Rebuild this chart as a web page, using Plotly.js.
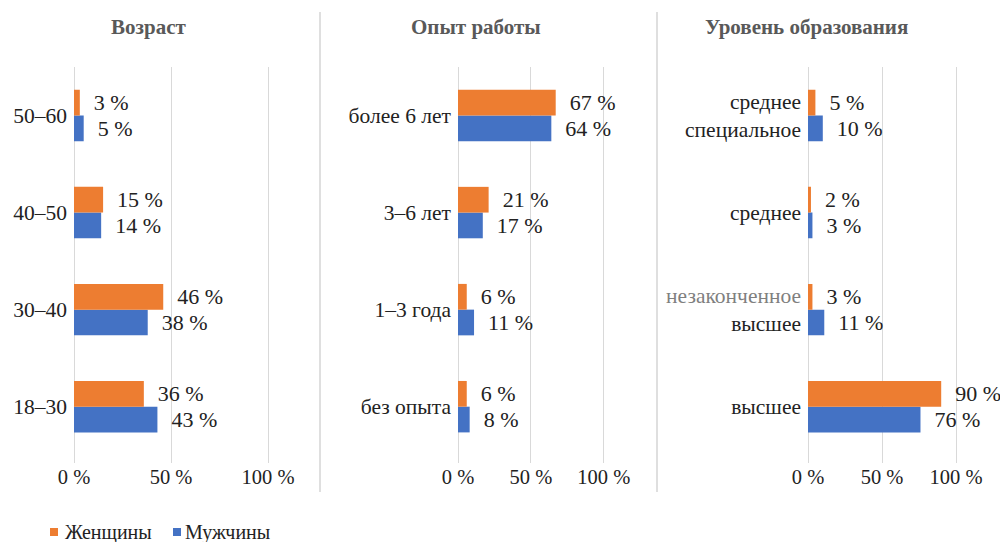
<!DOCTYPE html>
<html>
<head>
<meta charset="utf-8">
<script src="https://cdn.plot.ly/plotly-3.0.1.min.js"></script>
<style>
  body { margin: 0; background: #fff; }
  #chart { width: 1000px; height: 542px; }
</style>
</head>
<body>
<div id="chart"></div>
<script>
// categories listed bottom to top (plotly draws the first category at the bottom)
var age_cats = ["18–30", "30–40", "40–50", "50–60"];
var age_women = [36, 46, 15, 3];
var age_men = [43, 38, 14, 5];

var exp_cats = ["без опыта", "1–3 года", "3–6 лет", "более 6 лет"];
var exp_women = [6, 6, 21, 67];
var exp_men = [8, 11, 17, 64];

var edu_cats = [
  "высшее",
  "<span style='fill:#7f7f7f'>незаконченное</span><br>высшее",
  "среднее",
  "среднее<br>специальное",
];
var edu_women = [90, 3, 2, 5];
var edu_men = [76, 11, 3, 10];

var panel_titles = ["Возраст", "Опыт работы", "Уровень образования"];
var x_ticks = [0, 50, 100];
var x_ticktext = ["0 %", "50 %", "100 %"];
var legend_names = ["Женщины", "Мужчины"];

var ORANGE = "#ED7D31";
var BLUE = "#4472C4";
var FONT = "Liberation Serif";

function barTrace(cats, vals, color, axis) {
  return {
    type: "bar",
    orientation: "h",
    y: cats,
    x: vals,
    showlegend: false,
    marker: { color: color },
    text: vals.map(function (v) { return "\u00a0\u00a0" + v + " %"; }),
    textposition: "outside",
    constraintext: "none",
    cliponaxis: false,
    textfont: { family: FONT, size: 22, color: "#222" },
    hoverinfo: "none",
    xaxis: "x" + axis,
    yaxis: "y" + axis,
  };
}

// men first so the orange (women) bar sits on top in each group
var data = [
  barTrace(age_cats, age_men, BLUE, ""),
  barTrace(age_cats, age_women, ORANGE, ""),
  barTrace(exp_cats, exp_men, BLUE, "2"),
  barTrace(exp_cats, exp_women, ORANGE, "2"),
  barTrace(edu_cats, edu_men, BLUE, "3"),
  barTrace(edu_cats, edu_women, ORANGE, "3"),
];

function xAxis(domain, anchor) {
  return {
    domain: domain,
    anchor: anchor,
    range: [0, 120],
    tickvals: x_ticks,
    ticktext: x_ticktext,
    showgrid: true,
    gridcolor: "#d9d9d9",
    gridwidth: 1,
    zeroline: true,
    zerolinecolor: "#d9d9d9",
    zerolinewidth: 1,
    showline: false,
    ticks: "",
    tickfont: { family: FONT, size: 20.5, color: "#222" },
    fixedrange: true,
  };
}

function yAxis(anchor) {
  return {
    domain: [0.1458, 0.8764],
    anchor: anchor,
    type: "category",
    range: [-0.58, 3.5],
    showgrid: false,
    zeroline: false,
    showline: false,
    ticks: "",
    ticklabelstandoff: 6,
    tickfont: { family: FONT, size: 21.5, color: "#222" },
    fixedrange: true,
  };
}

var annots = [
  { text: "<b>" + panel_titles[0] + "</b>", x: 0.148, y: 0.95, xanchor: "center", size: 21, color: "#595959" },
  { text: "<b>" + panel_titles[1] + "</b>", x: 0.476, y: 0.95, xanchor: "center", size: 21, color: "#595959" },
  { text: "<b>" + panel_titles[2] + "</b>", x: 0.806, y: 0.95, xanchor: "center", size: 21, color: "#595959" },
  { text: legend_names[0], x: 0.063, y: 1 - 532 / 542, xanchor: "left", size: 20, color: "#222" },
  { text: legend_names[1], x: 0.183, y: 1 - 532 / 542, xanchor: "left", size: 20, color: "#222" },
].map(function (a) {
  return {
    text: a.text,
    x: a.x,
    y: a.y,
    xref: "paper",
    yref: "paper",
    showarrow: false,
    xanchor: a.xanchor,
    yanchor: "middle",
    font: { family: FONT, size: a.size, color: a.color },
  };
});

var shapes = [0.32, 0.657].map(function (x) {
  return {
    type: "line",
    xref: "paper",
    yref: "paper",
    x0: x,
    x1: x,
    y0: 1 - 12 / 542,
    y1: 1 - 492 / 542,
    line: { color: "#bfbfbf", width: 1 },
  };
});
// legend swatches
[[0.050, ORANGE], [0.173, BLUE]].forEach(function (s) {
  shapes.push({
    type: "rect",
    xref: "paper",
    yref: "paper",
    x0: s[0],
    x1: s[0] + 0.008,
    y0: 1 - 536 / 542,
    y1: 1 - 528 / 542,
    fillcolor: s[1],
    line: { width: 0 },
  });
});

var layout = {
  width: 1000,
  height: 542,
  margin: { l: 0, r: 0, t: 0, b: 0 },
  paper_bgcolor: "#fff",
  plot_bgcolor: "#fff",
  barmode: "group",
  bargap: 0.47,
  bargroupgap: 0,
  font: { family: FONT, color: "#222" },
  xaxis: xAxis([0.074, 0.3068], "y"),
  yaxis: yAxis("x"),
  xaxis2: xAxis([0.458, 0.633], "y2"),
  yaxis2: yAxis("x2"),
  xaxis3: xAxis([0.808, 0.9856], "y3"),
  yaxis3: yAxis("x3"),
  showlegend: false,
  annotations: annots,
  shapes: shapes,
};

Plotly.newPlot("chart", data, layout, { displayModeBar: false, staticPlot: true });
</script>
</body>
</html>
